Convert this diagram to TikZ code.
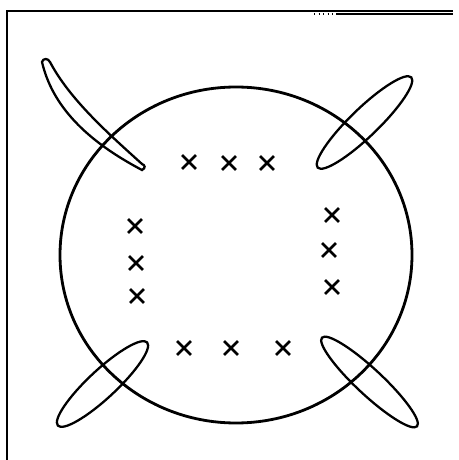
\documentclass[tikz,border=0pt]{standalone}
\usetikzlibrary{shapes.misc}

\begin{document}
\begin{tikzpicture}[
        x=0.02cm, y=0.02cm,
        frame/.style={line width=1.1pt, black},
        rim/.style={line width=1.6pt, black},
        petal/.style={line width=1.3pt, black},
        xmark/.style={cross out, draw, line width=1.6pt, minimum size=0.22cm, inner sep=0pt}
    ]
        \useasboundingbox (0,0) rectangle (459,460);
        % Frame
        \draw[frame] (7,0) -- (7,449) -- (453,449);
        \draw[frame, line width=0.8pt] (336,446) -- (453,446);
        \draw[dotted, line width=0.6pt] (314,446) -- (334,446);
        % Big circle
        \draw[rim] (236,205) ellipse (176 and 168);
        % Petals
        \draw[petal] (42,398) .. controls (52,355) and (85,320) .. (142,290)
            .. controls (146,292) and (145,295) .. (142,296)
            .. controls (110,325) and (70,360) .. (50,398)
            .. controls (48,402) and (43,402) .. cycle;
        \draw[petal, rotate around={44:(364.5,337.5)}] (364.5,337.5) ellipse (65 and 14);
        \draw[petal, rotate around={43:(102.5,76)}] (102.5,76) ellipse (61 and 14);
        \draw[petal, rotate around={-43:(369.5,78)}] (369.5,78) ellipse (65 and 13);
        % Top row of crosses
        \node[xmark] (t1) at (189,298) {};
        \node[xmark] (t2) at (229,297) {};
        \node[xmark] (t3) at (267,297) {};
        % Left column
        \node[xmark] (l1) at (135,234) {};
        \node[xmark] (l2) at (136,197) {};
        \node[xmark] (l3) at (137,164) {};
        % Right column
        \node[xmark] (r1) at (332,245) {};
        \node[xmark] (r2) at (329,210) {};
        \node[xmark] (r3) at (332,173) {};
        % Bottom row
        \node[xmark] (b1) at (184,112) {};
        \node[xmark] (b2) at (231,112) {};
        \node[xmark] (b3) at (283,112) {};
    \end{tikzpicture}
\end{document}
